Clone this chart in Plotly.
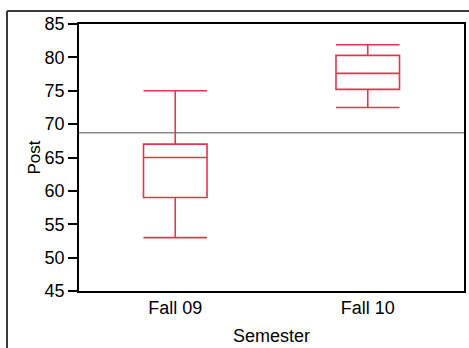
import plotly.graph_objects as go

semesters = ["Fall 09", "Fall 10"]
lower_whisker = [53, 72.5]
q1_vals = [59, 75.2]
median_vals = [65, 77.6]
q3_vals = [67, 80.3]
upper_whisker = [75, 81.9]
overall_mean = 68.7
y_ticks = [45, 50, 55, 60, 65, 70, 75, 80, 85]

RED = "#e8344e"
FONT = "Liberation Sans, Arial, sans-serif"

fig = go.Figure()
fig.add_trace(go.Box(
    x=semesters, q1=q1_vals, median=median_vals, q3=q3_vals,
    lowerfence=lower_whisker, upperfence=upper_whisker,
    line=dict(color=RED, width=1.6), fillcolor="rgba(255,255,255,0)",
    whiskerwidth=1, boxpoints=False, hoverinfo="skip", showlegend=False,
))

# reference line (grand mean)
fig.add_shape(type="line", xref="paper", x0=0, x1=1, yref="y",
              y0=overall_mean, y1=overall_mean,
              line=dict(color="#8a8a8a", width=1.5), layer="below")

# outer frame of the graph window
fig.add_shape(type="line", xref="paper", yref="paper", x0=-0.187, x1=1.2,
              y0=1.0487, y1=1.0487, line=dict(color="#3a3a3a", width=2))
fig.add_shape(type="line", xref="paper", yref="paper", x0=-0.187, x1=-0.187,
              y0=-0.4, y1=1.0487, line=dict(color="#3a3a3a", width=2))

fig.update_layout(
    width=469, height=348,
    margin=dict(l=79, r=5, t=24, b=57, autoexpand=False),
    paper_bgcolor="white", plot_bgcolor="white",
    font=dict(family=FONT, color="black", size=17),
    boxgap=0.67, boxgroupgap=0,
    xaxis=dict(
        type="category", showline=True, linecolor="black", linewidth=1.5,
        mirror=True, ticks="", showgrid=False, zeroline=False,
        automargin=False, tickfont=dict(size=18),
        title=dict(text="Semester", font=dict(size=18), standoff=12),
    ),
    xaxis2=dict(
        overlaying="x", anchor="y", side="bottom", range=[0, 2],
        tickvals=[1], ticks="outside", ticklen=6, tickwidth=1.5,
        tickcolor="black", showticklabels=False, showgrid=False,
        zeroline=False, showline=False, automargin=False,
    ),
    yaxis=dict(
        range=[45, 85], tickvals=y_ticks, ticks="outside", ticklen=9,
        tickwidth=1.5, tickcolor="black", showline=True, linecolor="black",
        linewidth=1.5, mirror=True, showgrid=False, zeroline=False,
        automargin=False, tickfont=dict(size=18),
        title=dict(text="Post", font=dict(size=17), standoff=0),
    ),
)

fig.write_html("out.html", config={"displayModeBar": False},
               post_script="document.body.style.margin='0';document.body.style.overflow='hidden';")
